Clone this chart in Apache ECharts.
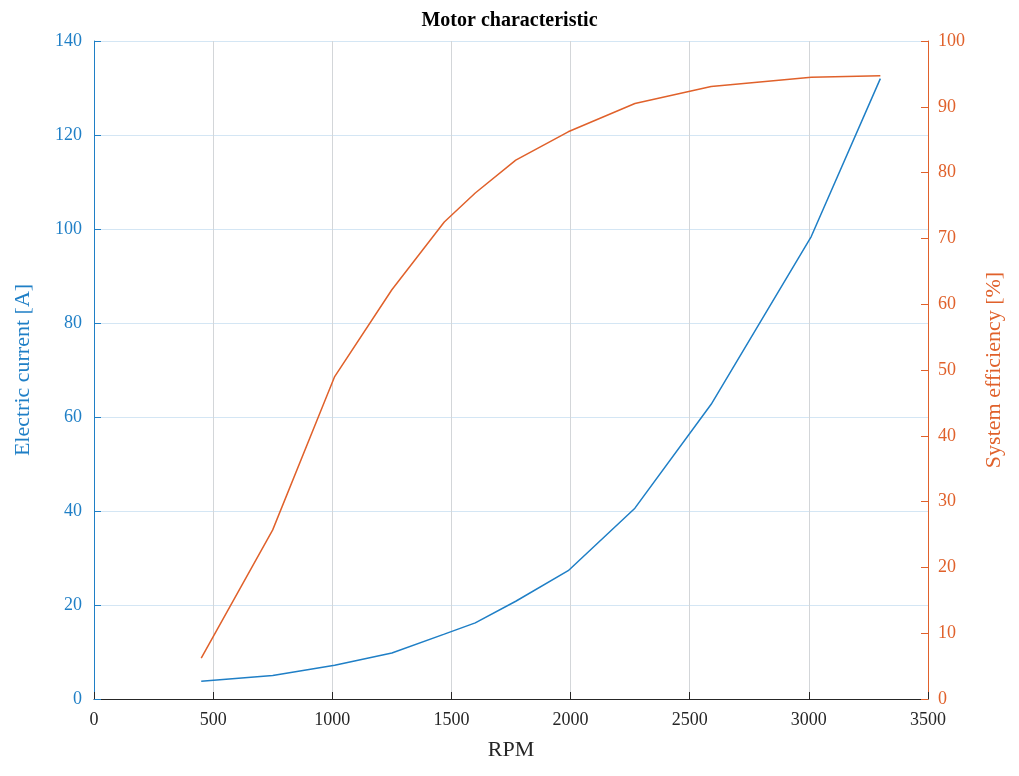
<!DOCTYPE html>
<html><head><meta charset="utf-8">
<script src="https://cdn.jsdelivr.net/npm/echarts@6/dist/echarts.min.js"></script>
<style>html,body{margin:0;padding:0;background:#fff}#c{width:1019px;height:776px}</style>
</head><body><div id="c"></div>
<script>
const rpm = [450, 750, 1010, 1250, 1470, 1600, 1770, 1990, 2270, 2590, 3010, 3300];
const current = [3.8, 5.0, 7.2, 9.8, 13.8, 16.2, 20.8, 27.3, 40.6, 62.7, 98.4, 132];
const efficiency = [6.2, 25.7, 49.0, 62.2, 72.5, 76.9, 81.9, 86.2, 90.5, 93.1, 94.5, 94.7];

const BLUE = '#1f7fc6', ORANGE = '#e0612b';
const FONT = 'Liberation Serif';
const chart = echarts.init(document.getElementById('c'));
chart.setOption({
  animation: false,
  backgroundColor: '#fff',
  title: { text: 'Motor characteristic', left: 'center', top: 6,
    textStyle: { fontFamily: FONT, fontWeight: 'bold', fontSize: 20, color: '#000' } },
  grid: { left: 94, right: 91, top: 41, bottom: 77 },
  xAxis: { type: 'value', min: 0, max: 3500, interval: 500,
    name: 'RPM', nameLocation: 'middle', nameGap: 40,
    nameTextStyle: { fontFamily: FONT, fontSize: 22, color: '#262626' },
    axisLine: { onZero: false, lineStyle: { color: '#262626', width: 1 } },
    axisTick: { inside: true, length: 7, lineStyle: { color: '#262626' } },
    axisLabel: { fontFamily: FONT, fontSize: 18, color: '#262626', margin: 12,
      formatter: v => String(v) },
    splitLine: { show: true, lineStyle: { color: '#d3d6d9', width: 1 } } },
  yAxis: [
    { type: 'value', min: 0, max: 140, interval: 20, position: 'left',
      name: 'Electric current [A]', nameLocation: 'middle', nameGap: 60,
      nameTextStyle: { fontFamily: FONT, fontSize: 22, color: BLUE },
      axisLine: { show: true, lineStyle: { color: BLUE } },
      axisTick: { show: true, inside: true, length: 7, lineStyle: { color: BLUE } },
      axisLabel: { fontFamily: FONT, fontSize: 18, color: BLUE, margin: 12 },
      splitLine: { show: true, lineStyle: { color: '#d4e6f4', width: 1 } } },
    { type: 'value', min: 0, max: 100, interval: 10, position: 'right',
      name: 'System efficiency [%]', nameLocation: 'middle', nameGap: 55, nameRotate: 90,
      nameTextStyle: { fontFamily: FONT, fontSize: 22, color: ORANGE },
      axisLine: { show: true, lineStyle: { color: ORANGE } },
      axisTick: { show: true, inside: true, length: 7, lineStyle: { color: ORANGE } },
      axisLabel: { fontFamily: FONT, fontSize: 18, color: ORANGE, margin: 10 },
      splitLine: { show: false } }
  ],
  series: [
    { type: 'line', yAxisIndex: 0, data: rpm.map((x, i) => [x, current[i]]),
      showSymbol: false, lineStyle: { color: BLUE, width: 1.5 }, z: 3 },
    { type: 'line', yAxisIndex: 1, data: rpm.map((x, i) => [x, efficiency[i]]),
      showSymbol: false, lineStyle: { color: ORANGE, width: 1.5 }, z: 3 }
  ]
});
</script></body></html>
